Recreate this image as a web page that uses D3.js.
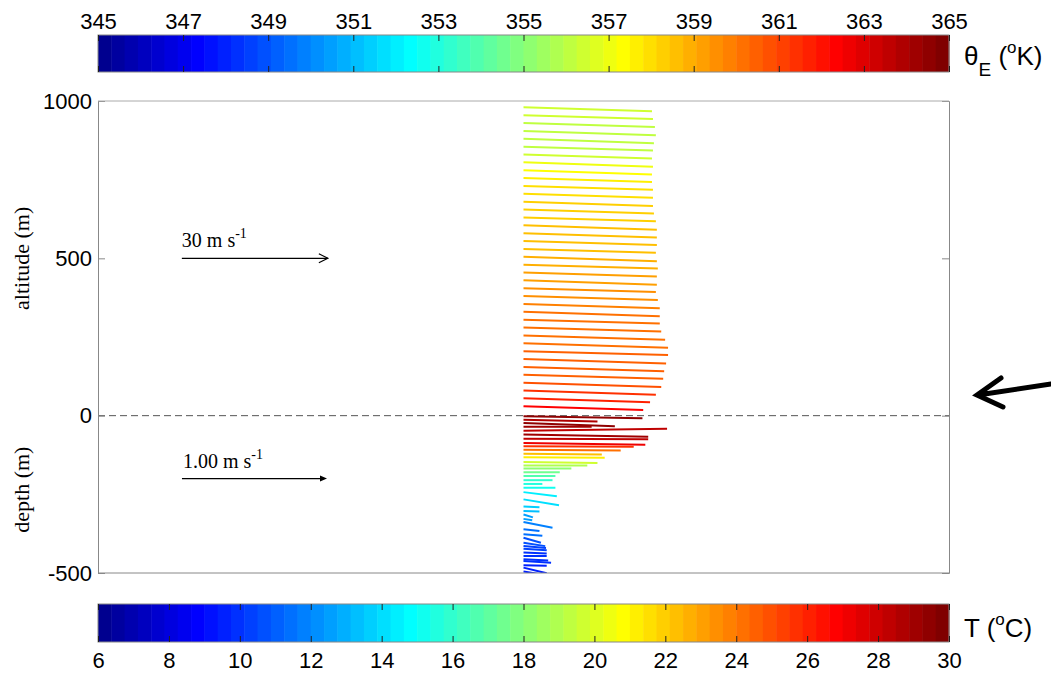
<!DOCTYPE html>
<html>
<head>
<script src="https://d3js.org/d3.v7.min.js"></script>
<style>
    body { margin: 0; background: #fff; }
    svg text { font-family: 'Liberation Sans', Arial, sans-serif; }
    .serif { font-family: 'Liberation Serif', 'Times New Roman', serif; }
</style>
</head>
<body>
<div id="vis"></div>
<script>

// colour bar ticks
var thetaTicks = [345, 347, 349, 351, 353, 355, 357, 359, 361, 363, 365];
var tempTicks = [6, 8, 10, 12, 14, 16, 18, 20, 22, 24, 26, 28, 30];
var yTicks = [-500, 0, 500, 1000];

// atmosphere: altitude (m), u, v (m/s), theta_E (K)
var atmAlt = [30, 55, 80, 105, 130, 155, 180, 205, 230, 255, 280, 305, 330, 355, 380, 405, 430, 455, 480, 505,
              530, 555, 580, 605, 630, 655, 680, 705, 730, 755, 780, 805, 830, 855, 880, 905, 930, 955, 980];
var atmU = [24.6, 26.0, 27.2, 28.3, 28.7, 28.9, 29.3, 29.7, 29.7, 29.1, 28.3, 28.0, 28.0, 28.0, 27.6, 27.2, 27.4, 27.4, 27.6, 27.4,
            27.2, 27.4, 27.4, 27.4, 27.2, 26.8, 26.6, 26.6, 26.6, 26.4, 26.4, 26.6, 26.4, 26.6, 26.8, 27.2, 27.0, 26.6, 26.4];
var atmV = [-0.8, -0.8, -0.9, -0.9, -0.8, -0.9, -0.9, -0.8, -0.9, -0.9, -0.8, -0.8, -0.9, -0.9, -0.8, -0.8, -0.9, -0.8, -0.8, -0.9,
            -0.8, -0.8, -0.9, -0.9, -0.8, -0.8, -0.9, -0.8, -0.8, -0.8, -0.9, -0.9, -0.8, -0.8, -0.9, -0.9, -0.8, -0.8, -0.8];
var atmTheta = [362.4, 361.8, 361.3, 360.7, 360.6, 360.5, 360.4, 360.4, 360.3, 360.3, 360.2, 360.1, 360.0, 359.9, 359.6, 359.4, 359.2, 359.1, 359.0, 358.8,
                358.7, 358.6, 358.6, 358.5, 358.4, 358.3, 358.2, 358.0, 357.9, 357.7, 357.4, 357.0, 356.5, 356.1, 356.0, 356.1, 356.2, 356.3, 356.4];

// ocean: depth (m), u, v (m/s), T (C)
var oceDepth = [-2, -13, -23, -35, -48, -60, -73, -87, -97, -108, -121, -132, -147, -158, -168, -180, -192, -205, -217, -229,
                -243, -266, -289, -303, -314, -328, -338, -361, -377, -388, -404, -414, -423, -435, -446, -456, -462, -475, -483, -495];
var oceU = [0.82, 0.51, 0.63, 0.47, 0.99, 0.86, 0.86, 0.84, 0.76, 0.67, 0.54, 0.56, 0.51, 0.44, 0.33, 0.25, 0.22, 0.20, 0.13, 0.22,
            0.23, 0.245, 0.11, 0.11, 0.065, 0.06, 0.20, 0.11, 0.13, 0.12, 0.15, 0.155, 0.16, 0.16, 0.16, 0.17, 0.19, 0.16, 0.16, 0.12];
var oceV = [-0.014, -0.012, -0.023, 0, 0.014, -0.016, -0.005, -0.012, -0.004, -0.005, -0.005, -0.004, -0.007, 0, 0, 0, 0, 0, 0, 0,
            -0.028, -0.041, -0.005, -0.003, -0.02, -0.01, -0.039, -0.012, -0.01, -0.035, -0.023, -0.015, -0.01, -0.007, 0, -0.01, -0.011, -0.005, -0.039, -0.02];
var oceT = [29.6, 28.6, 29.5, 28.9, 28.3, 29.2, 28.4, 27.2, 25.6, 24.3, 22.2, 21.0, 19.6, 18.8, 18.0, 17.3, 16.6, 16.0, 15.6, 15.0,
            14.4, 14.1, 13.6, 13.3, 12.6, 12.4, 11.9, 11.6, 11.3, 10.8, 10.6, 10.4, 10.3, 10.1, 10.0, 9.9, 9.8, 9.6, 9.5, 9.4];

var width = 1051, height = 675;
var margin = {top: 101, bottom: 102, left: 98, right: 102};
var plotW = width - margin.left - margin.right;
var plotH = height - margin.top - margin.bottom;

var svg = d3.select('#vis').append('svg')
    .attr('width', width).attr('height', height);

// matlab style jet(64)
function jetMap(m) {
    var n = Math.ceil(m / 4), u = [], i;
    for (i = 1; i <= n; i++) u.push(i / n);
    for (i = 1; i < n; i++) u.push(1);
    for (i = n; i >= 1; i--) u.push(i / n);
    var cmap = d3.range(m).map(function() { return [0, 0, 0]; });
    var g0 = Math.ceil(n / 2) - (m % 4 == 1 ? 1 : 0);
    u.forEach(function(val, j) {
        var gi = g0 + j + 1, ri = gi + n, bi = gi - n;
        if (gi >= 1 && gi <= m) cmap[gi - 1][1] = val;
        if (ri >= 1 && ri <= m) cmap[ri - 1][0] = val;
        if (bi >= 1 && bi <= m) cmap[bi - 1][2] = val;
    });
    return cmap.map(function(c) { return d3.rgb(c[0] * 255, c[1] * 255, c[2] * 255).toString(); });
}
var jet = jetMap(64);
function colorOf(v, lo, hi) {
    var idx = Math.floor((v - lo) / (hi - lo) * 64);
    return jet[Math.max(0, Math.min(63, idx))];
}

// colour bars
function colorbar(lo, hi, ticks, y0, h, labelsOnTop) {
    var sc = d3.scaleLinear().domain([lo, hi]).range([margin.left, margin.left + plotW]);
    var g = svg.append('g');
    var step = (hi - lo) / 64;
    g.selectAll('rect.cb').data(d3.range(64)).enter().append('rect')
        .attr('class', 'cb')
        .attr('x', function(i) { return sc(lo + i * step); })
        .attr('y', y0)
        .attr('width', function(i) { return sc(lo + (i + 1) * step) - sc(lo + i * step) + 0.5; })
        .attr('height', h)
        .attr('fill', function(i) { return jet[i]; });
    g.append('rect').attr('x', margin.left).attr('y', y0).attr('width', plotW).attr('height', h)
        .attr('fill', 'none').attr('stroke', '#888').attr('stroke-width', 1);
    var top = g.append('g').attr('transform', 'translate(0,' + y0 + ')')
        .call(d3.axisTop(sc).tickValues(ticks).tickSize(-6).tickPadding(labelsOnTop ? 6 : 3)
            .tickFormat(labelsOnTop ? String : ''));
    var bot = g.append('g').attr('transform', 'translate(0,' + (y0 + h) + ')')
        .call(d3.axisBottom(sc).tickValues(ticks).tickSize(-6).tickPadding(labelsOnTop ? 3 : 10)
            .tickFormat(labelsOnTop ? '' : String));
    [top, bot].forEach(function(a) {
        a.select('.domain').remove();
        a.selectAll('line').attr('stroke', '#222');
        a.selectAll('text').attr('font-size', 22).attr('fill', '#000')
            .attr('font-family', "'Liberation Sans', Arial, sans-serif");
    });
}
colorbar(345, 365, thetaTicks, 35, 37, true);
colorbar(6, 30, tempTicks, 604, 38, false);

// colour bar labels
var th = svg.append('text').attr('x', 964).attr('y', 65).attr('font-size', 26);
th.append('tspan').text('θ');
th.append('tspan').attr('dy', 11).attr('font-size', 19).text('E');
th.append('tspan').attr('dy', -11).text(' (');
th.append('tspan').attr('dy', -12).attr('font-size', 17).text('o');
th.append('tspan').attr('dy', 12).text('K)');

var tl = svg.append('text').attr('x', 964).attr('y', 637).attr('font-size', 26);
tl.append('tspan').text('T (');
tl.append('tspan').attr('dy', -12).attr('font-size', 17).text('o');
tl.append('tspan').attr('dy', 12).text('C)');

// main panel
var plot = svg.append('g').attr('transform', 'translate(' + margin.left + ',' + margin.top + ')');
var y = d3.scaleLinear().domain([-500, 1000]).range([plotH, 0]);
// same pixel size for u and v (stick plot)
var xAtm = d3.scaleLinear().domain([-87.43, 87.43]).range([0, plotW]);
var xOce = d3.scaleLinear().domain([-2.934, 2.934]).range([0, plotW]);
var pxAtm = xAtm(1) - xAtm(0);
var pxOce = xOce(1) - xOce(0);

plot.append('clipPath').attr('id', 'clip').append('rect').attr('width', plotW).attr('height', plotH);

// zero line
plot.append('line').attr('x1', 0).attr('x2', plotW).attr('y1', y(0)).attr('y2', y(0))
    .attr('stroke', '#555').attr('stroke-width', 1).attr('stroke-dasharray', '7,4');

var sticks = plot.append('g').attr('clip-path', 'url(#clip)').attr('stroke-width', 2).attr('stroke-linecap', 'butt');
sticks.selectAll('line.atm').data(atmAlt).enter().append('line').attr('class', 'atm')
    .attr('x1', xAtm(0)).attr('y1', function(d) { return y(d); })
    .attr('x2', function(d, i) { return xAtm(atmU[i]); })
    .attr('y2', function(d, i) { return y(d) - atmV[i] * pxAtm; })
    .attr('stroke', function(d, i) { return colorOf(atmTheta[i], 345, 365); });
sticks.selectAll('line.oce').data(oceDepth).enter().append('line').attr('class', 'oce')
    .attr('x1', xOce(0)).attr('y1', function(d) { return y(d); })
    .attr('x2', function(d, i) { return xOce(oceU[i]); })
    .attr('y2', function(d, i) { return y(d) - oceV[i] * pxOce; })
    .attr('stroke', function(d, i) { return colorOf(oceT[i], 6, 30); });

// axes box
var yl = plot.append('g').call(d3.axisLeft(y).tickValues(yTicks).tickSize(-7).tickPadding(6).tickFormat(String));
var yr = plot.append('g').attr('transform', 'translate(' + plotW + ',0)')
    .call(d3.axisRight(y).tickValues(yTicks).tickSize(-7).tickFormat(''));
[yl, yr].forEach(function(a) {
    a.selectAll('.domain').attr('stroke', '#888');
    a.selectAll('line').attr('stroke', '#888');
    a.selectAll('text').attr('font-size', 22).attr('fill', '#000')
        .attr('font-family', "'Liberation Sans', Arial, sans-serif");
});
plot.append('line').attr('x1', 0).attr('x2', plotW).attr('y1', 0).attr('y2', 0).attr('stroke', '#aaa');
plot.append('line').attr('x1', 0).attr('x2', plotW).attr('y1', plotH).attr('y2', plotH).attr('stroke', '#888');

// axis titles
plot.append('text').attr('class', 'serif').attr('font-size', 22)
    .attr('transform', 'translate(' + (-69) + ',' + y(500) + ') rotate(-90)')
    .attr('text-anchor', 'middle').text('altitude (m)');
plot.append('text').attr('class', 'serif').attr('font-size', 22)
    .attr('transform', 'translate(' + (-69) + ',' + y(-235) + ') rotate(-90)')
    .attr('text-anchor', 'middle').text('depth (m)');

// reference vectors
var refAtm = [-70.2, -40.2];
var refOce = [-2.355, -1.355];
var ra = plot.append('g');
ra.append('line').attr('x1', xAtm(refAtm[0])).attr('x2', xAtm(refAtm[1]))
    .attr('y1', y(500)).attr('y2', y(500)).attr('stroke', '#000').attr('stroke-width', 1.2);
ra.append('path')
    .attr('d', 'M' + (xAtm(refAtm[1]) - 9) + ',' + (y(500) - 4.5) + 'L' + xAtm(refAtm[1]) + ',' + y(500) +
        'L' + (xAtm(refAtm[1]) - 9) + ',' + (y(500) + 4.5))
    .attr('fill', 'none').attr('stroke', '#000').attr('stroke-width', 1.2);
var t1 = ra.append('text').attr('class', 'serif').attr('font-size', 20)
    .attr('x', xAtm(refAtm[0])).attr('y', y(500) - 11);
t1.append('tspan').text('30 m s');
t1.append('tspan').attr('dy', -9).attr('font-size', 14).text('-1');

var ro = plot.append('g');
ro.append('line').attr('x1', xOce(refOce[0])).attr('x2', xOce(refOce[1]) - 4)
    .attr('y1', y(-200)).attr('y2', y(-200)).attr('stroke', '#000').attr('stroke-width', 1.2);
ro.append('path')
    .attr('d', 'M' + (xOce(refOce[1]) - 7) + ',' + (y(-200) - 3) + 'L' + xOce(refOce[1]) + ',' + y(-200) +
        'L' + (xOce(refOce[1]) - 7) + ',' + (y(-200) + 3) + 'Z')
    .attr('fill', '#000');
var t2 = ro.append('text').attr('class', 'serif').attr('font-size', 20)
    .attr('x', xOce(refOce[0]) + 1).attr('y', y(-200) - 11);
t2.append('tspan').text('1.00 m s');
t2.append('tspan').attr('dy', -9).attr('font-size', 14).text('-1');

// big pointer on the right
svg.append('path')
    .attr('d', 'M1051,384 L978,395 M1001,378 L977,395 L1003,407')
    .attr('fill', 'none').attr('stroke', '#000').attr('stroke-width', 5)
    .attr('stroke-linecap', 'round').attr('stroke-linejoin', 'miter');

</script>
</body>
</html>
